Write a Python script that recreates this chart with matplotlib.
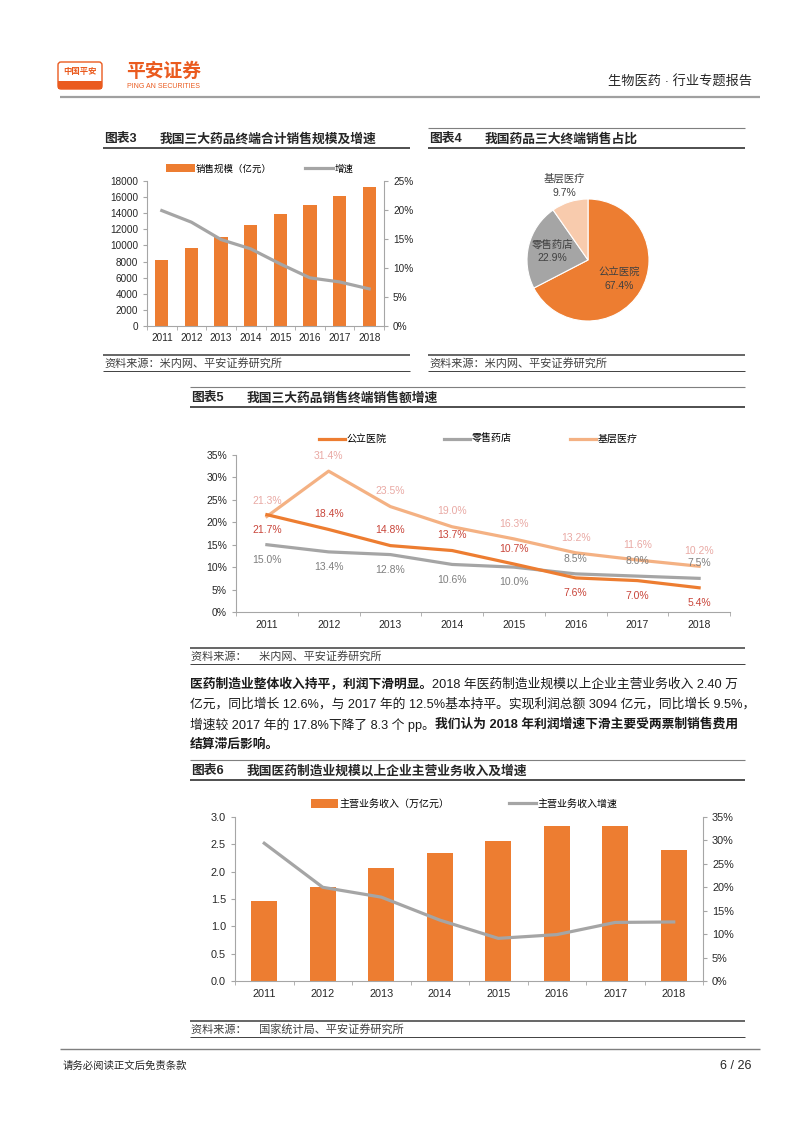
import numpy as np
import matplotlib
matplotlib.use('Agg')
import matplotlib.pyplot as plt
from matplotlib.patches import FancyBboxPatch, Rectangle
from matplotlib.ticker import FuncFormatter, MultipleLocator

plt.rcParams['font.family'] = ['Liberation Sans', 'Noto Sans CJK SC']
plt.rcParams['axes.unicode_minus'] = False

years = ['2011', '2012', '2013', '2014', '2015', '2016', '2017', '2018']

# 图表3 三大终端合计销售规模（亿元）及增速（%）
sales_total = [8200, 9700, 11100, 12600, 13950, 15050, 16200, 17200]
sales_growth = [19.9, 17.9, 14.9, 13.3, 10.7, 8.3, 7.6, 6.4]

# 图表4 三大终端销售占比（%）
share_labels = ['公立医院', '零售药店', '基层医疗']
share_values = [67.4, 22.9, 9.7]

# 图表5 三大终端销售额增速（%）
growth_hospital = [21.7, 18.4, 14.8, 13.7, 10.7, 7.6, 7.0, 5.4]
growth_retail = [15.0, 13.4, 12.8, 10.6, 10.0, 8.5, 8.0, 7.5]
growth_primary = [21.3, 31.4, 23.5, 19.0, 16.3, 13.2, 11.6, 10.2]

# 图表6 主营业务收入（万亿元）及增速（%）
revenue = [1.46, 1.72, 2.07, 2.35, 2.57, 2.83, 2.84, 2.40]
revenue_growth = [29.4, 20.0, 17.9, 13.0, 9.1, 9.9, 12.5, 12.6]

ORANGE = '#ED7D31'
GRAY = '#A5A5A5'
PEACH = '#F4B183'
AXC = '#A6A6A6'
TXT = '#262626'
BRAND = '#EA5B1F'

W, H = 802, 1133
fig = plt.figure(figsize=(W / 100, H / 100), dpi=100)
fig.patch.set_facecolor('white')

# page layer in pixel coordinates
bg = fig.add_axes([0, 0, 1, 1])
bg.set_xlim(0, W)
bg.set_ylim(H, 0)
bg.axis('off')


def px_axes(l, t, r, b):
    ax = fig.add_axes([l / W, 1 - b / H, (r - l) / W, (b - t) / H])
    ax.patch.set_alpha(0)
    return ax


def hline(x0, x1, y, lw=1.0, color='#404040'):
    bg.plot([x0, x1], [y, y], color=color, lw=lw, solid_capstyle='butt')


def chart_header(x0, x1, y, num, title, top=True):
    if top:
        hline(x0, x1, y - 11, lw=0.8, color='#7F7F7F')
    bg.text(x0 + 1, y, num, fontsize=9.2, weight='bold', color=TXT, va='center')
    bg.text(x0 + 57, y, title, fontsize=9.2, weight='bold', color=TXT, va='center')
    hline(x0, x1, y + 9, lw=1.3, color='#404040')


def source_row(x0, x1, y, s):
    hline(x0, x1, y - 8, lw=1.3, color='#595959')
    bg.text(x0 + 1, y, s, fontsize=8, color='#404040', va='center')
    hline(x0, x1, y + 8, lw=0.7, color='#404040')


def style_bottom(ax):
    ax.set_xlim(-0.5, 7.5)
    ax.set_xticks(range(8))
    ax.set_xticklabels(years)
    ax.set_xticks(np.arange(-0.5, 8, 1), minor=True)
    ax.tick_params(axis='x', which='major', length=0, pad=6, colors=TXT)
    ax.tick_params(axis='x', which='minor', length=3, color=AXC)
    ax.spines['top'].set_visible(False)
    ax.spines['right'].set_visible(False)
    for s in ['left', 'bottom']:
        ax.spines[s].set_color(AXC)
        ax.spines[s].set_linewidth(0.8)
    ax.tick_params(axis='y', length=3, color=AXC, colors=TXT)


pct = FuncFormatter(lambda v, p: '%d%%' % round(v))

# ---------- header / footer ----------
bg.add_patch(FancyBboxPatch((58, 62), 44, 27, boxstyle='round,pad=0,rounding_size=3',
                            fc='white', ec=BRAND, lw=1.0))
bg.add_patch(Rectangle((58, 81), 44, 8, fc=BRAND, ec='none'))
bg.text(80, 72, '中国平安', fontsize=6, weight='bold', color=BRAND, ha='center', va='center')
bg.text(126, 72, '平安证券', fontsize=13.5, weight='bold', color=BRAND, va='center')
bg.text(127, 86, 'PING AN SECURITIES', fontsize=5, color=BRAND, va='center')
bg.text(752, 82, '生物医药 · 行业专题报告', fontsize=9.5, color='#262626', ha='right', va='center')
hline(60, 760, 97, lw=1.6, color='#A0A0A0')

hline(60, 760, 1049, lw=1.0, color='#7F7F7F')
bg.text(63, 1066, '请务必阅读正文后免责条款', fontsize=7.5, color='#262626', va='center')
bg.text(752, 1066, '6 / 26', fontsize=9, color='#262626', ha='right', va='center')

# ---------- 图表3 ----------
chart_header(103, 410, 139, '图表3', '我国三大药品终端合计销售规模及增速', top=False)
ax3 = px_axes(147, 181, 384, 326)
ax3.bar(range(8), sales_total, width=0.45, color=ORANGE, label='销售规模（亿元）')
ax3.set_ylim(0, 18000)
ax3.yaxis.set_major_locator(MultipleLocator(2000))
style_bottom(ax3)
ax3.tick_params(axis='both', labelsize=7.2)
ax3.tick_params(axis='x', pad=5)
ax3b = ax3.twinx()
ax3b.plot(range(8), sales_growth, color=GRAY, lw=2.3, label='增速')
ax3b.set_ylim(0, 25)
ax3b.yaxis.set_major_locator(MultipleLocator(5))
ax3b.yaxis.set_major_formatter(pct)
for s in ['top', 'left', 'bottom']:
    ax3b.spines[s].set_visible(False)
ax3b.spines['right'].set_color(AXC)
ax3b.spines['right'].set_linewidth(0.8)
ax3b.tick_params(axis='y', length=3, color=AXC, colors=TXT, labelsize=7.2)
h1, l1 = ax3.get_legend_handles_labels()
h2, l2 = ax3b.get_legend_handles_labels()
ax3b.legend(h1 + h2, l1 + l2, ncol=2, frameon=False, fontsize=6.8, loc='center',
            bbox_to_anchor=(260 / W, 1 - 169 / H), bbox_transform=fig.transFigure,
            handlelength=3.0, handleheight=0.9, handletextpad=0.15, columnspacing=3.5)
source_row(103, 410, 363, '资料来源：米内网、平安证券研究所')

# ---------- 图表4 ----------
chart_header(428, 745, 139, '图表4', '我国药品三大终端销售占比')
ax4 = px_axes(527, 199, 649, 321)
wedges, _ = ax4.pie(share_values, colors=[ORANGE, GRAY, '#F8CBAD'], startangle=90,
                    counterclock=False, radius=1.0,
                    wedgeprops=dict(edgecolor='white', linewidth=0.8))
ax4.set_xlim(-1, 1)
ax4.set_ylim(-1, 1)
for w, name, v in zip(wedges, share_labels, share_values):
    ang = np.deg2rad((w.theta1 + w.theta2) / 2)
    d = 0.6 if v > 15 else 1.28
    ax4.text(d * np.cos(ang), d * np.sin(ang), '%s\n%.1f%%' % (name, v), ha='center',
             va='center', fontsize=7.5, color='#404040', linespacing=1.5)
source_row(428, 745, 363, '资料来源：米内网、平安证券研究所')

# ---------- 图表5 ----------
chart_header(190, 745, 398, '图表5', '我国三大药品销售终端销售额增速')
ax5 = px_axes(236, 455, 730, 612)
x = np.arange(8)
ax5.plot(x, growth_hospital, color=ORANGE, lw=2.3, label='公立医院', zorder=4)
ax5.plot(x, growth_retail, color=GRAY, lw=2.3, label='零售药店', zorder=3)
ax5.plot(x, growth_primary, color=PEACH, lw=2.3, label='基层医疗', zorder=2)
ax5.set_ylim(0, 35)
ax5.yaxis.set_major_locator(MultipleLocator(5))
ax5.yaxis.set_major_formatter(pct)
style_bottom(ax5)
ax5.tick_params(axis='both', labelsize=7.5)
hosp_side = [-1, 1, 1, 1, 1, -1, -1, -1]
retail_side = [-1, -1, -1, -1, -1, 1, 1, 1]
primary_side = [1] * 8
for vals, sides, col in [(growth_hospital, hosp_side, '#C9453A'),
                         (growth_retail, retail_side, '#7F7F7F'),
                         (growth_primary, primary_side, '#E9A9A4')]:
    for i, (v, s) in enumerate(zip(vals, sides)):
        ax5.annotate('%.1f%%' % v, (i, v), xytext=(0, 11 * s), textcoords='offset points',
                     ha='center', va='center', fontsize=7.5, color=col)
ax5.legend(ncol=3, frameon=False, fontsize=7.2, loc='center',
           bbox_to_anchor=(478 / W, 1 - 439 / H), bbox_transform=fig.transFigure,
           handlelength=2.6, handletextpad=0.15, columnspacing=5.8)
source_row(190, 745, 656, '资料来源：    米内网、平安证券研究所')

# ---------- 正文 ----------
para = [
    [('医药制造业整体收入持平，利润下滑明显。', 'bold'),
     ('2018 年医药制造业规模以上企业主营业务收入 2.40 万', 'normal')],
    [('亿元，同比增长 12.6%，与 2017 年的 12.5%基本持平。实现利润总额 3094 亿元，同比增长 9.5%，', 'normal')],
    [('增速较 2017 年的 17.8%下降了 8.3 个 pp。', 'normal'),
     ('我们认为 2018 年利润增速下滑主要受两票制销售费用', 'bold')],
    [('结算滞后影响。', 'bold')],
]
renderer = fig.canvas.get_renderer()
for k, runs in enumerate(para):
    y = 684 + 20.4 * k
    xx = 190
    for s, wt in runs:
        t = bg.text(xx, y, s, fontsize=9.2, weight=wt, color='#1A1A1A', va='center')
        xx += t.get_window_extent(renderer).width

# ---------- 图表6 ----------
chart_header(190, 745, 771, '图表6', '我国医药制造业规模以上企业主营业务收入及增速')
ax6 = px_axes(235, 817, 703, 981)
ax6.bar(x, revenue, width=0.44, color=ORANGE, label='主营业务收入（万亿元）')
ax6.set_ylim(0, 3.0)
ax6.yaxis.set_major_locator(MultipleLocator(0.5))
ax6.yaxis.set_major_formatter(FuncFormatter(lambda v, p: '%.1f' % v))
style_bottom(ax6)
ax6.tick_params(axis='both', labelsize=7.8)
ax6b = ax6.twinx()
ax6b.plot(x, revenue_growth, color=GRAY, lw=2.3, label='主营业务收入增速')
ax6b.set_ylim(0, 35)
ax6b.yaxis.set_major_locator(MultipleLocator(5))
ax6b.yaxis.set_major_formatter(pct)
for s in ['top', 'left', 'bottom']:
    ax6b.spines[s].set_visible(False)
ax6b.spines['right'].set_color(AXC)
ax6b.spines['right'].set_linewidth(0.8)
ax6b.tick_params(axis='y', length=3, color=AXC, colors=TXT, labelsize=7.8)
h1, l1 = ax6.get_legend_handles_labels()
h2, l2 = ax6b.get_legend_handles_labels()
ax6b.legend(h1 + h2, l1 + l2, ncol=2, frameon=False, fontsize=7.2, loc='center',
            bbox_to_anchor=(464 / W, 1 - 804 / H), bbox_transform=fig.transFigure,
            handlelength=2.7, handleheight=0.9, handletextpad=0.15, columnspacing=6.0)
source_row(190, 745, 1029, '资料来源：    国家统计局、平安证券研究所')

fig.savefig('out.png', dpi=100)
